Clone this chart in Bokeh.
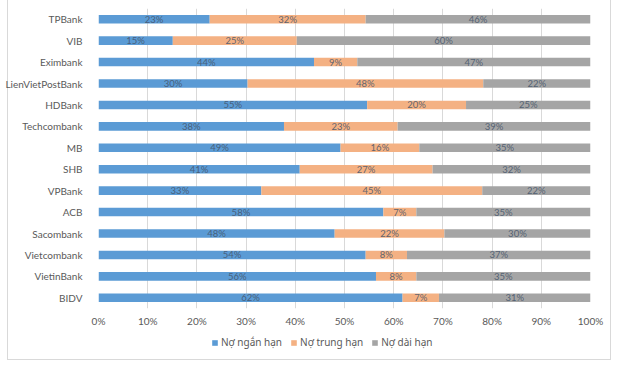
from bokeh.plotting import figure
from bokeh.layouts import column
from bokeh.models import (ColumnDataSource, FactorRange, Range1d, Legend, LegendItem,
                          FixedTicker, PrintfTickFormatter)
from bokeh.core.properties import value
from bokeh.embed import file_html
from bokeh.resources import INLINE

banks = ["TPBank", "VIB", "Eximbank", "LienVietPostBank", "HDBank", "Techcombank", "MB",
         "SHB", "VPBank", "ACB", "Sacombank", "Vietcombank", "VietinBank", "BIDV"]
short_term = [22.6, 15.1, 43.8, 30.3, 54.6, 37.7, 49.2, 40.9, 33.1, 57.9, 48.0, 54.3, 56.4, 61.8]
mid_term = [31.7, 25.2, 8.8, 47.9, 20.1, 23.1, 16.0, 27.0, 44.9, 6.7, 22.3, 8.4, 8.2, 7.4]
long_term = [45.7, 59.7, 47.4, 21.8, 25.3, 39.2, 34.8, 32.1, 22.0, 35.4, 29.7, 37.3, 35.4, 30.8]
series_names = ["Nợ ngắn hạn", "Nợ trung hạn", "Nợ dài hạn"]
x_ticks = [0, 10, 20, 30, 40, 50, 60, 70, 80, 90, 100]

colors = ["#5B9BD5", "#F4B183", "#A5A5A5"]
FONT = "Lato"

src = ColumnDataSource(dict(
    bank=banks, short=short_term, mid=mid_term, long=long_term,
    short_c=[s / 2 for s in short_term],
    mid_c=[s + m / 2 for s, m in zip(short_term, mid_term)],
    long_c=[s + m + l / 2 for s, m, l in zip(short_term, mid_term, long_term)],
    short_t=[f"{round(v)}%" for v in short_term],
    mid_t=[f"{round(v)}%" for v in mid_term],
    long_t=[f"{round(v)}%" for v in long_term],
))

y_range = FactorRange(factors=list(reversed(banks)))

p = figure(width=611, height=329, y_range=y_range, x_range=Range1d(0, 100),
           output_backend="svg", toolbar_location=None,
           min_border_left=98, min_border_right=21, min_border_top=8, min_border_bottom=10)
p.title = None
p.outline_line_color = None
p.background_fill_color = "white"
p.border_fill_alpha = 0

rs = p.hbar_stack(["short", "mid", "long"], y="bank", height=0.4, color=colors,
                  line_color=None, source=src)

for xc, tc in [("short_c", "short_t"), ("mid_c", "mid_t"), ("long_c", "long_t")]:
    p.text(x=xc, y="bank", text=tc, source=src, text_align="center", text_baseline="middle",
           text_font=value(FONT), text_font_size="9.5px", text_color="#44546A", text_alpha=0.85)

p.xaxis.ticker = FixedTicker(ticks=x_ticks)
p.xaxis.formatter = PrintfTickFormatter(format="%d%%")
p.xaxis.axis_line_color = None
p.xaxis.major_tick_line_color = None
p.xaxis.minor_tick_line_color = None
p.xaxis.major_label_standoff = 0
p.xaxis.major_label_text_font = FONT
p.xaxis.major_label_text_font_size = "10px"
p.xaxis.major_label_text_color = "#595959"

p.yaxis.axis_line_color = None
p.yaxis.major_tick_line_color = None
p.yaxis.major_label_standoff = 10
p.yaxis.major_label_text_font = FONT
p.yaxis.major_label_text_font_size = "10px"
p.yaxis.major_label_text_color = "#595959"

p.xgrid.grid_line_color = "#D9D9D9"
p.ygrid.grid_line_color = None

# legend strip below the chart (its zero-height bars draw nothing, only the legend shows)
q = figure(width=611, height=31, x_range=Range1d(200, 201), y_range=y_range,
           output_backend="svg", toolbar_location=None,
           x_axis_location=None, y_axis_location=None,
           min_border_left=0, min_border_right=0, min_border_top=0, min_border_bottom=0)
q.title = None
q.grid.visible = False
q.outline_line_color = None
q.background_fill_alpha = 0
q.border_fill_alpha = 0
legend_renderers = q.hbar_stack(["short", "mid", "long"], y="bank", height=0, color=colors,
                                line_color=None, source=src)

legend = Legend(items=[LegendItem(label=n, renderers=[r])
                       for n, r in zip(series_names, legend_renderers)],
                orientation="horizontal", location=(113, 11))
legend.label_text_font = "Noto Sans"
legend.label_text_font_size = "10px"
legend.label_text_color = "#595959"
legend.glyph_width = 7
legend.glyph_height = 7
legend.label_standoff = 3
legend.spacing = 8
legend.padding = 4
legend.margin = 0
legend.border_line_color = None
legend.background_fill_alpha = 0
legend.label_height = 12
q.add_layout(legend, "center")

layout = column(p, q, spacing=0, styles={
    "box-shadow": "inset 7px 0 0 0 #FFFFFF, inset 8px 0 0 0 #D9D9D9, "
                  "inset -1px 0 0 0 #D9D9D9, inset 0 -1px 0 0 #D9D9D9",
    "background-color": "#FFFFFF"})

open("out.html", "w").write(file_html(layout, INLINE))
